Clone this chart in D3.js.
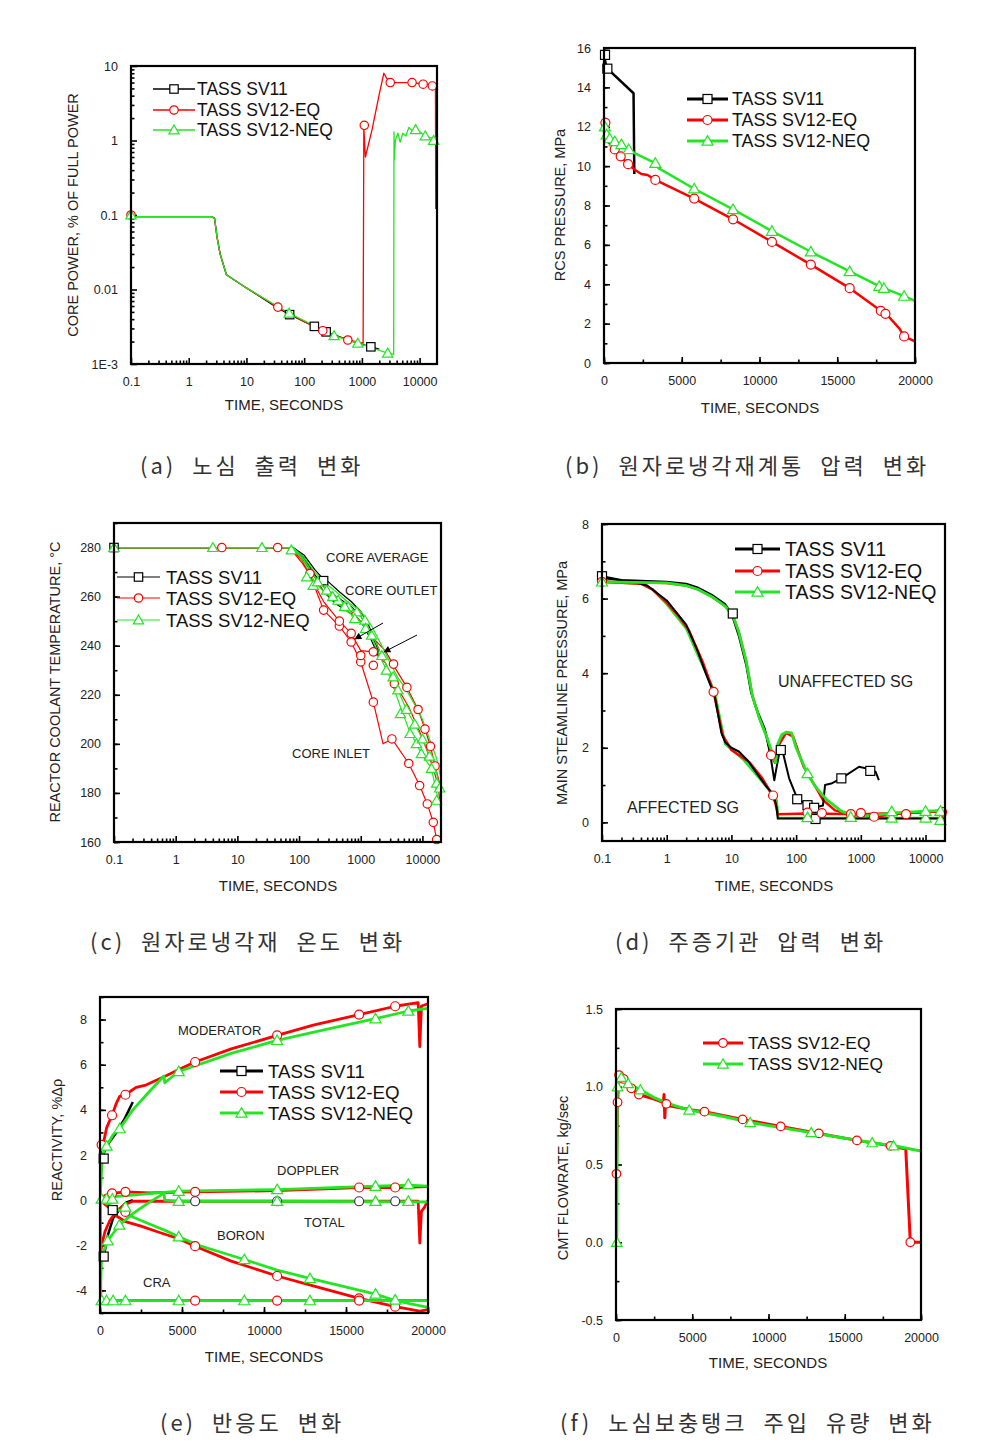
<!DOCTYPE html>
<html><head><meta charset="utf-8">
<script src="https://cdn.jsdelivr.net/npm/d3@7"></script>
<style>
body{margin:0;background:#fff}
svg{display:block}
text{font-family:"Liberation Sans",Arial,sans-serif}
.cap{font-family:"Noto Sans CJK KR","Noto Sans CJK SC",sans-serif}
</style>
</head><body>
<svg id="c" width="982" height="1451"></svg>
<script>
// ================= DATA =================
const LEGEND = ["TASS SV11","TASS SV12-EQ","TASS SV12-NEQ"];
const LOG_X_TICKS = [0.1,1,10,100,1000,10000];
const LOG_X_LABELS = ["0.1","1","10","100","1000","10000"];
const LIN_X_TICKS = [0,5000,10000,15000,20000];
const LIN_X_LABELS = ["0","5000","10000","15000","20000"];

// (a) core power
const aYTicks = [0.001,0.01,0.1,1,10];
const aYLabels = ["1E-3","0.01","0.1","1","10"];
const aSV11 = [[0.1,0.095],[2.5,0.095],[2.8,0.09],[3.1,0.05],[3.5,0.03],[4.5,0.0158],[10,0.0105],[33,0.0058],[56,0.0046],[150,0.0032],[240,0.0027],[700,0.002],[1430,0.0017],[2000,0.00158]];
const aSV11Mk = [[56,0.0046],[150,0.0032],[240,0.0027],[1430,0.0017]];
const aEQ = [[0.1,0.095],[2.5,0.095],[2.8,0.09],[3.1,0.05],[3.5,0.03],[4.5,0.0158],[10,0.0105],[35,0.0058],[100,0.0037],[210,0.0028],[570,0.0021],[1050,0.0019],[1080,1.5],[1150,0.6],[1500,1.4],[2000,4.2],[2400,8.0],[2700,6.8],[3100,6.0],[7400,6.0],[11500,5.7],[16600,5.5],[18800,5.4],[19000,0.12]];
const aEQMk = [[0.1,0.1],[35,0.0058],[210,0.0028],[570,0.0021],[1100,1.6],[3100,6.0],[7400,6.0],[11500,5.7],[16600,5.4]];
const aNEQ = [[0.1,0.095],[2.5,0.095],[2.8,0.09],[3.1,0.05],[3.5,0.03],[4.5,0.0158],[10,0.0105],[55,0.0048],[330,0.0024],[850,0.0019],[2800,0.0014],[3550,0.00135],[3600,1.3],[3650,0.55],[3800,1.0],[4200,1.25],[4600,0.95],[5100,1.25],[5800,1.15],[6500,1.5],[7500,1.35],[8500,1.45],[12500,1.15],[17500,1.05],[19000,1.0]];
const aNEQMk = [[0.1,0.1],[55,0.0048],[330,0.0024],[850,0.0019],[2800,0.0014],[8500,1.4],[12500,1.15],[17500,1.0]];

// (b) RCS pressure
const bYTicks = [0,2,4,6,8,10,12,14,16];
const bSV11 = [[0,15.7],[150,15.0],[1900,13.7],[1950,9.6]];
const bSV11Mk = [[65,15.65],[215,14.95]];
const bEQ = [[0,12.3],[60,11.5],[300,11.2],[690,10.85],[1075,10.5],[1550,10.1],[2000,9.8],[2400,9.6],[2800,9.55],[3300,9.3],[5800,8.35],[8300,7.3],[10800,6.15],[13300,5.0],[15800,3.8],[17800,2.65],[18200,2.45],[19000,1.75],[19300,1.35],[20000,1.1]];
const bEQMk = [[90,12.2],[690,10.85],[1075,10.5],[1550,10.1],[3300,9.3],[5800,8.35],[8300,7.3],[10800,6.15],[13300,5.0],[15800,3.8],[17800,2.65],[18100,2.5],[19300,1.35]];
const bNEQ = [[0,12.5],[80,12.0],[170,11.6],[365,11.4],[690,11.25],[1120,11.1],[1590,10.85],[2000,10.65],[3300,10.15],[3500,9.9],[5800,8.85],[8300,7.8],[10800,6.7],[13300,5.65],[15800,4.65],[17700,3.9],[18000,3.8],[19300,3.4],[20000,3.15]];
const bNEQMk = [[60,12.0],[170,11.6],[365,11.4],[690,11.25],[1120,11.1],[1590,10.85],[3300,10.15],[5800,8.85],[8300,7.8],[10800,6.7],[13300,5.65],[15800,4.65],[17700,3.9],[18000,3.8],[19300,3.4]];

// (c) reactor coolant temperature
const cYTicks = [160,180,200,220,240,260,280];
const cSV11Out = [[0.1,280],[80,280],[120,277],[180,271],[250,267],[300,266],[450,262],[700,258],[1000,254],[1300,249],[1600,244],[2000,238]];
const cSV11Avg = [[0.1,280],[80,280],[120,276],[180,269],[250,264],[400,260],[700,256],[1000,252],[1400,246],[1800,240],[2000,236]];
const cSV11In = [[0.1,280],[80,280],[120,275],[180,268],[250,262],[400,257],[700,253],[1000,250],[1500,242],[2000,235]];
const cSV11Mk = [[0.1,280],[250,266.5]];
const cEQOut = [[0.1,280],[70,280],[110,276],[160,270],[250,262],[400,258],[700,254],[1000,250],[1600,243],[2500,238],[3400,232],[5600,223],[8500,214],[11000,206],[13500,199],[16000,191],[18500,185],[20000,183]];
const cEQAvg = [[0.1,280],[70,280],[110,275],[160,267],[250,258],[450,250],[700,245],[1000,238],[1600,237.5],[2500,233],[3500,225],[6000,215],[9000,205],[12000,197],[15000,190],[18000,183],[20000,172]];
const cEQIn = [[0.1,280],[70,280],[110,274],[150,269],[250,254.5],[450,248],[700,241.5],[1000,233.5],[1100,230],[1600,217],[2300,200],[3200,202],[6000,192],[9000,183],[12000,175.5],[15000,168],[17000,161],[18000,160]];
const cEQMk = [[5.6,280],[45,280],[150,269.4],[250,254.5],[450,248],[700,241.5],[1000,233.4],[1600,217],[3200,202],[6000,192],[9000,183],[12000,175.5],[15000,168],[17000,161],[450,250],[700,245],[1000,236],[1600,237.5],[1600,232],[3400,232.5],[3500,224.5],[5600,223],[8500,214],[11000,206],[13500,199],[16000,191]];
const cNEQOut = [[0.1,280],[80,280],[120,276],[180,270],[250,266],[400,262],[600,258],[1000,254],[1500,248],[2200,240],[3000,233],[4000,227],[5500,222],[7500,216],[10000,210],[13000,202],[17000,194],[20000,186]];
const cNEQAvg = [[0.1,280],[80,280],[120,275],[180,268],[250,264],[400,260],[600,256],[1000,252],[1500,245],[2200,236],[3000,229],[4000,222],[5500,214],[7500,208],[10000,202],[13000,195],[17000,188],[20000,180]];
const cNEQIn = [[0.1,280],[80,280],[120,274],[180,266],[250,262],[400,258],[600,254],[1000,250],[1500,243],[2200,234],[3000,227],[4400,215],[6000,206],[8000,200],[9600,196],[14000,190],[17000,180],[20000,175]];
const cNEQMk = [[0.1,280],[4,280],[25,280],[75,279],[133,268],[170,264.6],[280,262.6],[430,258.5],[630,255.8],[860,253.8],[1170,250.4],[1500,244.3],[2600,230],[3350,227.3],[4400,212.3],[6300,204.2],[8000,200.1],[9600,196],[14000,190],[17000,184],[17000,177],[200,266],[350,260],[550,256],[800,251],[1200,247],[2200,236],[4000,222],[5500,214],[7500,208],[10000,202],[13000,195],[19000,182]];

// (d) main steamline pressure
const dYTicks = [0,2,4,6,8];
const dSV11Unaff = [[0.1,6.6],[0.2,6.5],[1,6.45],[2,6.4],[3,6.3],[5,6.1],[8,5.85],[10,5.6],[13,5.0],[17,4.2],[20,3.5],[25,3.0],[33,2.5],[40,1.8],[46,1.13],[49,1.4],[56,1.94],[62,1.9],[78,1.18],[104,0.64],[150,0.46],[190,0.39],[260,0.45],[280,1.0],[360,1.05],[500,1.18],[940,1.49],[1400,1.42],[1700,1.35],[1900,1.13]];
const dSV11Aff = [[0.1,6.55],[0.3,6.45],[0.5,6.35],[1,5.95],[2,5.3],[3,4.6],[4,4.0],[5.5,3.4],[7,2.4],[8,2.15],[10,2.0],[13,1.9],[18,1.65],[25,1.3],[35,0.95],[45,0.75],[50,0.4],[52,0.1],[20000,0.1]];
const dSV11Mk = [[0.1,6.6],[10.5,5.6],[58,1.94],[104,0.62],[150,0.46],[190,0.39],[200,0.09],[500,1.18],[1400,1.38]];
const dEQAff = [[0.1,6.45],[0.4,6.4],[0.6,6.25],[1,5.89],[1.5,5.55],[2.2,5.15],[3.6,4.3],[5.3,3.5],[7.3,2.34],[10,1.94],[18.8,1.62],[30,1.18],[44,0.7],[48,0.5],[52,0.22],[150,0.24],[1000,0.22],[5000,0.26],[20000,0.3]];
const dEQUnaff = [[0.1,6.45],[1,6.42],[2,6.35],[3,6.25],[5,6.05],[8,5.8],[10.5,5.55],[13,5.1],[17,4.3],[21,3.4],[27,2.8],[35,2.3],[41,1.8],[47,1.6],[55,2.1],[70,2.4],[90,2.3],[130,1.5],[200,0.95],[260,0.6],[400,0.32],[700,0.2],[1500,0.15],[5000,0.25],[20000,0.3]];
const dEQMk = [[0.1,6.45],[5.3,3.5],[41,1.8],[44,0.72],[150,0.26],[250,0.25],[700,0.22],[1000,0.25],[1600,0.15],[5000,0.22],[18000,0.28]];
const dNEQUnaff = [[0.1,6.45],[1,6.42],[2,6.35],[3,6.25],[5,6.05],[8,5.8],[10.5,5.55],[13,5.1],[17,4.3],[21,3.4],[27,2.8],[35,2.3],[42,1.9],[48,1.6],[52,2.1],[60,2.35],[70,2.42],[85,2.4],[100,2.0],[150,1.3],[200,0.95],[300,0.6],[500,0.3],[800,0.18],[1200,0.17],[3000,0.25],[10000,0.3],[20000,0.32]];
const dNEQAff = [[0.1,6.45],[0.4,6.4],[0.6,6.25],[1,5.85],[2,5.2],[3,4.5],[5.5,3.5],[8,2.1],[15,1.7],[35,0.95],[50,0.6],[53,0.12],[20000,0.12]];
const dNEQMk = [[0.1,6.45],[150,1.31],[150,0.13],[700,0.14],[3000,0.12],[3000,0.29],[10000,0.12],[10000,0.3],[17000,0.06],[17000,0.3]];

// (e) reactivity
const eYTicks = [-4,-2,0,2,4,6,8];
const eSV11Mod = [[0,1.2],[100,1.85],[300,2.2],[600,2.6],[1000,3.0],[1500,3.6],[2000,4.35]];
const eSV11Tot = [[0,-2.6],[225,-2.5],[500,-1.5],[800,-0.8],[1200,-0.4],[1600,-0.1],[2000,0.0]];
const eSV11Mk = [[225,1.84],[225,-2.5],[775,-0.44]];
const eEQMod = [[0,0],[50,2.4],[200,2.5],[400,3.2],[735,3.76],[1000,4.3],[1200,4.6],[1550,4.67],[2200,5.0],[2800,5.1],[4000,5.5],[5000,5.85],[5800,6.12],[8000,6.7],[10800,7.3],[13000,7.75],[15800,8.22],[18000,8.59],[19400,8.75],[19500,6.8],[19600,8.6],[20000,8.7]];
const eEQDop = [[0,0],[300,0.2],[735,0.3],[1550,0.37],[3000,0.32],[5800,0.37],[10800,0.42],[15800,0.56],[18000,0.56],[20000,0.6]];
const eEQTot = [[0,-2.6],[100,-2.0],[300,-1.4],[600,-0.9],[1000,-0.5],[1500,-0.2],[2000,-0.05],[5000,-0.05],[19400,-0.05],[19500,-1.9],[19600,-0.5],[19800,-0.3],[20000,0]];
const eEQBor = [[0,0],[500,-0.3],[1000,-0.7],[1550,-0.95],[2500,-1.15],[3500,-1.4],[4750,-1.7],[5800,-2.04],[8000,-2.7],[10800,-3.36],[13000,-3.8],[15800,-4.35],[18000,-4.72],[19500,-4.92],[20000,-4.85]];
const eEQCra = [[0,0],[50,-4.45],[20000,-4.45]];
const eEQMk = [[100,2.45],[735,3.76],[1550,4.67],[5800,6.12],[10800,7.3],[15800,8.22],[18000,8.59],[735,0.3],[1550,0.37],[5800,0.37],[15800,0.56],[18000,0.56],[1550,-0.52],[5800,-2.04],[10800,-3.36],[15800,-4.35],[18000,-4.72],[5800,-4.45],[10800,-4.45],[15800,-4.45]];
const eTotMk = [[5800,-0.05],[10800,-0.05],[15800,-0.05],[18000,-0.05]];
const eNEQMod = [[0,0],[150,2.0],[400,2.4],[800,2.9],[1200,3.17],[2000,4.0],[3000,4.8],[3900,5.5],[3950,5.2],[4800,5.7],[6000,6.0],[8000,6.5],[10800,7.08],[14000,7.6],[16800,8.04],[18800,8.38],[20000,8.5]];
const eNEQDop = [[0,0],[200,0.1],[800,0.15],[1600,0.2],[4800,0.4],[10800,0.47],[16800,0.62],[18800,0.66],[20000,0.62]];
const eNEQTot = [[0,-4.5],[100,-2.5],[470,-1.8],[1180,-1.1],[2000,-0.6],[3000,-0.1],[3900,0.3],[3950,0.0],[4800,-0.05],[10000,-0.05],[20000,-0.08]];
const eNEQBor = [[0,0],[800,-0.3],[1550,-0.6],[2500,-0.9],[3500,-1.2],[4000,-1.35],[4800,-1.62],[6000,-2.0],[8800,-2.63],[10800,-3.1],[12800,-3.47],[16800,-4.16],[18000,-4.45],[20000,-4.75]];
const eNEQCra = [[0,0],[40,-4.45],[20000,-4.45]];
const eNEQMk = [[470,-1.8],[1180,-1.1],[100,0.05],[400,0.05],[750,0.05],[1550,-0.3],[400,2.4],[1200,3.17],[4800,5.7],[10800,7.08],[16800,8.04],[18800,8.38],[4800,0.4],[10800,0.47],[16800,0.62],[18800,0.7],[4800,-0.05],[10800,-0.05],[16800,-0.05],[18800,-0.05],[4800,-1.62],[8800,-2.63],[12800,-3.47],[16800,-4.16],[18000,-4.42],[100,-4.45],[400,-4.45],[800,-4.45],[1550,-4.45],[4800,-4.45],[8800,-4.45],[12800,-4.45]];

// (f) CMT flowrate
const fYTicks = [-0.5,0,0.5,1.0,1.5];
const fYLabels = ["-0.5","0.0","0.5","1.0","1.5"];
const fEQ = [[0,0],[30,0.45],[100,0.9],[200,1.08],[500,1.05],[1000,0.99],[1500,0.95],[2500,0.92],[3100,0.9],[3150,0.95],[3200,0.8],[3250,0.9],[3400,0.88],[5000,0.85],[5800,0.84],[8300,0.79],[10800,0.745],[13300,0.70],[15800,0.655],[18000,0.62],[19000,0.6],[19300,0],[20000,0]];
const fEQMk = [[30,0.44],[100,0.9],[200,1.075],[500,1.05],[1000,0.99],[1500,0.95],[3300,0.89],[5800,0.84],[8300,0.79],[10800,0.745],[13300,0.70],[15800,0.655],[18000,0.62],[19300,0]];
const fNEQ = [[0,0],[50,0],[80,1.0],[350,1.06],[800,1.02],[1600,0.98],[2500,0.93],[3500,0.89],[4800,0.85],[7000,0.81],[8800,0.77],[12800,0.705],[16800,0.64],[18200,0.62],[20000,0.587]];
const fNEQMk = [[50,0],[100,1.0],[350,1.06],[800,1.02],[1600,0.98],[4800,0.85],[8800,0.77],[12800,0.705],[16800,0.64],[18200,0.62]];

const CAPTIONS = ["(a) 노심 출력 변화","(b) 원자로냉각재계통 압력 변화","(c) 원자로냉각재 온도 변화","(d) 주증기관 압력 변화","(e) 반응도 변화","(f) 노심보충탱크 주입 유량 변화"];

// ================= DRAWING =================
const svg = d3.select('#c');
const RED='#ff0000', GRN='#22e622', BLK='#000000', NAVY='#33336a';
const defs = svg.append('defs');
defs.append('marker').attr('id','arr').attr('viewBox','0 0 10 10').attr('refX',9).attr('refY',5)
  .attr('markerWidth',9).attr('markerHeight',7).attr('orient','auto').attr('markerUnits','userSpaceOnUse')
  .append('path').attr('d','M0,0L10,5L0,10Z').attr('fill','#000');

function logMinor(lo,hi){const v=[];for(let e=Math.floor(Math.log10(lo));e<=Math.ceil(Math.log10(hi));e++)for(let k=2;k<=9;k++){const t=k*Math.pow(10,e);if(t>lo*1.0001&&t<hi)v.push(t);}return v;}
function linMinor(lo,hi,step){return d3.range(lo,hi+step*0.001,step);}

function marker(g,cx,cy,sh,col,r){
  if(sh==='circle') g.append('circle').attr('cx',cx).attr('cy',cy).attr('r',r).attr('fill','#fff').attr('stroke',col).attr('stroke-width',1.2);
  else if(sh==='square') g.append('rect').attr('x',cx-r).attr('y',cy-r).attr('width',2*r).attr('height',2*r).attr('fill','#fff').attr('stroke',col).attr('stroke-width',1.2);
  else g.append('path').attr('d',d3.symbol(d3.symbolTriangle,r*r*2.6)()).attr('transform',`translate(${cx},${cy+1})`).attr('fill','#fff').attr('stroke',col).attr('stroke-width',1.2);
}

let pid=0;
function drawPanel(p){
  pid++;
  const g=svg.append('g');
  const x=(p.xlog?d3.scaleLog():d3.scaleLinear()).domain(p.xd).range([p.L,p.R]);
  const y=(p.ylog?d3.scaleLog():d3.scaleLinear()).domain(p.yd).range([p.B,p.T]);
  defs.append('clipPath').attr('id','cl'+pid).append('rect').attr('x',p.L).attr('y',p.T).attr('width',p.R-p.L).attr('height',p.B-p.T);
  const clean=s=>{s.select('.domain').remove();s.selectAll('line').attr('stroke','#000').attr('stroke-width',1.6);};
  g.append('g').attr('transform',`translate(0,${p.B})`).call(d3.axisBottom(x).tickValues(p.xm).tickSizeInner(-3.5).tickSizeOuter(0).tickFormat('')).call(clean);
  g.append('g').attr('transform',`translate(${p.L},0)`).call(d3.axisLeft(y).tickValues(p.ym).tickSizeInner(-3.5).tickSizeOuter(0).tickFormat('')).call(clean);
  const xa=g.append('g').attr('transform',`translate(0,${p.B})`).call(d3.axisBottom(x).tickValues(p.xt).tickFormat((d,i)=>p.xl[i]).tickSizeInner(-6).tickSizeOuter(0).tickPadding(13)).call(clean);
  const ya=g.append('g').attr('transform',`translate(${p.L},0)`).call(d3.axisLeft(y).tickValues(p.yt).tickFormat((d,i)=>p.yl[i]).tickSizeInner(-6).tickSizeOuter(0).tickPadding(13)).call(clean);
  [xa,ya].forEach(a=>a.selectAll('text').attr('font-size',12.5).attr('fill','#222').attr('font-family','"Liberation Sans",Arial,sans-serif'));
  const line=d3.line().x(d=>x(d[0])).y(d=>y(d[1]));
  const lg=g.append('g').attr('clip-path',`url(#cl${pid})`);
  p.series.forEach(s=>lg.append('path').datum(s.d).attr('d',line).attr('fill','none').attr('stroke',s.c).attr('stroke-width',s.w).attr('stroke-linejoin','round'));
  const mg=g.append('g');
  p.marks.forEach(m=>m.pts.forEach(pt=>marker(mg,x(pt[0]),y(pt[1]),m.sh,m.c,p.ms)));
  g.append('rect').attr('x',p.L).attr('y',p.T).attr('width',p.R-p.L).attr('height',p.B-p.T).attr('fill','none').attr('stroke','#000').attr('stroke-width',2.2);
  // titles
  g.append('text').attr('x',p.xt2[0]).attr('y',p.xt2[1]).attr('text-anchor','middle').attr('font-size',15).attr('fill','#222').text('TIME, SECONDS');
  g.append('text').attr('transform',`translate(${p.yt2[0]},${p.yt2[1]}) rotate(-90)`).attr('text-anchor','middle').attr('font-size',14.5).attr('fill','#222').text(p.ytitle);
  // legend
  const L=p.legend;
  L.items.forEach((it,i)=>{
    const yy=L.ys[i];
    g.append('line').attr('x1',L.x1).attr('x2',L.x2).attr('y1',yy).attr('y2',yy).attr('stroke',it.c).attr('stroke-width',L.w);
    marker(g,(L.x1+L.x2)/2,yy,it.sh,it.c,p.ms);
    g.append('text').attr('x',L.tx).attr('y',yy+L.fs*0.36).attr('font-size',L.fs).attr('fill','#111').text(it.t);
  });
  (p.notes||[]).forEach(n=>g.append('text').attr('x',n[1]).attr('y',n[2]).attr('font-size',n[3]).attr('fill','#222').text(n[0]));
}

const LI = [{t:LEGEND[0],c:BLK,sh:'square'},{t:LEGEND[1],c:RED,sh:'circle'},{t:LEGEND[2],c:GRN,sh:'tri'}];

// (a)
drawPanel({L:131,R:437,T:66,B:364,xlog:true,ylog:true,xd:[0.1,20000],yd:[0.001,10],
  xt:LOG_X_TICKS,xl:LOG_X_LABELS,xm:logMinor(0.1,20000),yt:aYTicks,yl:aYLabels,ym:logMinor(0.001,10),
  series:[{d:aSV11,c:BLK,w:1.3},{d:aEQ,c:RED,w:1.3},{d:aNEQ,c:GRN,w:1.3}],
  marks:[{pts:aSV11Mk,c:BLK,sh:'square'},{pts:aEQMk,c:RED,sh:'circle'},{pts:aNEQMk,c:GRN,sh:'tri'}],ms:4.2,
  xt2:[284,410],yt2:[78,215],ytitle:'CORE POWER, % OF FULL POWER',
  legend:{x1:153,x2:195,ys:[89,110,130],tx:197,fs:17.5,w:1.5,items:LI}});

// (b)
drawPanel({L:604,R:915,T:48,B:363,xlog:false,ylog:false,xd:[0,20000],yd:[0,16],
  xt:LIN_X_TICKS,xl:LIN_X_LABELS,xm:linMinor(0,20000,2500),yt:bYTicks,yl:bYTicks.map(String),ym:linMinor(0,16,1),
  series:[{d:bSV11,c:BLK,w:2.5},{d:bEQ,c:RED,w:2.5},{d:bNEQ,c:GRN,w:2.5}],
  marks:[{pts:bSV11Mk,c:BLK,sh:'square'},{pts:bEQMk,c:RED,sh:'circle'},{pts:bNEQMk,c:GRN,sh:'tri'}],ms:4.5,
  xt2:[760,413],yt2:[565,205],ytitle:'RCS PRESSURE, MPa',
  legend:{x1:687,x2:728,ys:[99,120,141],tx:732,fs:17.8,w:3,items:LI}});

// (c)
drawPanel({L:114,R:441,T:523,B:842,xlog:true,ylog:false,xd:[0.1,20000],yd:[160,290],
  xt:LOG_X_TICKS,xl:LOG_X_LABELS,xm:logMinor(0.1,20000),yt:cYTicks,yl:cYTicks.map(String),ym:linMinor(160,290,10),
  series:[{d:cSV11Out,c:BLK,w:1.2},{d:cSV11Avg,c:BLK,w:1.2},{d:cSV11In,c:BLK,w:1.2},
          {d:cEQOut,c:RED,w:1.2},{d:cEQAvg,c:RED,w:1.2},{d:cEQIn,c:RED,w:1.2},
          {d:cNEQOut,c:GRN,w:1.2},{d:cNEQAvg,c:GRN,w:1.2},{d:cNEQIn,c:GRN,w:1.2}],
  marks:[{pts:cSV11Mk,c:BLK,sh:'square'},{pts:cEQMk,c:RED,sh:'circle'},{pts:cNEQMk,c:GRN,sh:'tri'}],ms:4.2,
  xt2:[278,891],yt2:[60,682],ytitle:'REACTOR COOLANT TEMPERATURE, °C',
  legend:{x1:117,x2:160,ys:[577,598,620],tx:166,fs:18.5,w:1.2,items:LI},
  notes:[['CORE AVERAGE',326,562,13],['CORE OUTLET',345,595,13],['CORE  INLET',292,758,13]]});
svg.append('line').attr('x1',383).attr('y1',623).attr('x2',355).attr('y2',639).attr('stroke','#000').attr('stroke-width',1).attr('marker-end','url(#arr)');
svg.append('line').attr('x1',417).attr('y1',635).attr('x2',384).attr('y2',652).attr('stroke','#000').attr('stroke-width',1).attr('marker-end','url(#arr)');

// (d)
drawPanel({L:602,R:945,T:524,B:841,xlog:true,ylog:false,xd:[0.1,20000],yd:[-0.5,8],
  xt:LOG_X_TICKS,xl:LOG_X_LABELS,xm:logMinor(0.1,20000),yt:dYTicks,yl:dYTicks.map(String),ym:linMinor(0,8,1),
  series:[{d:dNEQAff,c:GRN,w:2.5},{d:dEQUnaff,c:RED,w:2.5},{d:dEQAff,c:RED,w:2.5},{d:dSV11Aff,c:BLK,w:2},{d:dSV11Unaff,c:BLK,w:2},{d:dNEQUnaff,c:GRN,w:2.8}],
  marks:[{pts:dSV11Mk,c:BLK,sh:'square'},{pts:dEQMk,c:RED,sh:'circle'},{pts:dNEQMk,c:GRN,sh:'tri'}],ms:4.5,
  xt2:[774,891],yt2:[567,683],ytitle:'MAIN STEAMLINE PRESSURE, MPa',
  legend:{x1:735,x2:780,ys:[549,571,592],tx:785,fs:19.5,w:3,items:LI},
  notes:[['UNAFFECTED SG',778,687,16],['AFFECTED SG',627,813,16]]});

// (e)
drawPanel({L:100,R:428,T:997,B:1313,xlog:false,ylog:false,xd:[0,20000],yd:[-5,9],
  xt:LIN_X_TICKS,xl:LIN_X_LABELS,xm:linMinor(0,20000,2500),yt:eYTicks,yl:eYTicks.map(String),ym:linMinor(-5,9,1),
  series:[{d:eSV11Mod,c:BLK,w:2.5},{d:eSV11Tot,c:BLK,w:2.5},
          {d:eEQMod,c:RED,w:2.8},{d:eEQDop,c:RED,w:2.8},{d:eEQTot,c:RED,w:2.8},{d:eEQBor,c:RED,w:2.8},{d:eEQCra,c:RED,w:2.8},
          {d:eNEQMod,c:GRN,w:2.8},{d:eNEQDop,c:GRN,w:2.8},{d:eNEQTot,c:GRN,w:2.8},{d:eNEQBor,c:GRN,w:2.8},{d:eNEQCra,c:GRN,w:2.8}],
  marks:[{pts:eSV11Mk,c:BLK,sh:'square'},{pts:eEQMk,c:RED,sh:'circle'},{pts:eTotMk,c:NAVY,sh:'circle'},{pts:eNEQMk,c:GRN,sh:'tri'}],ms:4.5,
  xt2:[264,1362],yt2:[62,1140],ytitle:'REACTIVITY, %Δρ',
  legend:{x1:220,x2:263,ys:[1071,1092,1113],tx:268,fs:18.7,w:3,items:LI},
  notes:[['MODERATOR',178,1035,13],['DOPPLER',277,1175,13],['TOTAL',304,1227,13],['BORON',217,1240,13],['CRA',143,1287,13]]});

// (f)
drawPanel({L:616,R:921,T:1009,B:1320,xlog:false,ylog:false,xd:[0,20000],yd:[-0.5,1.5],
  xt:LIN_X_TICKS,xl:LIN_X_LABELS,xm:linMinor(0,20000,2500),yt:fYTicks,yl:fYLabels,ym:linMinor(-0.5,1.5,0.25),
  series:[{d:fEQ,c:RED,w:3},{d:fNEQ,c:GRN,w:3}],
  marks:[{pts:fEQMk,c:RED,sh:'circle'},{pts:fNEQMk,c:GRN,sh:'tri'}],ms:4.3,
  xt2:[768,1368],yt2:[568,1178],ytitle:'CMT FLOWRATE, kg/sec',
  legend:{x1:703,x2:743,ys:[1043,1064],tx:748,fs:17.4,w:3,items:LI.slice(1)}});

// captions
const capPos=[[140,474],[565,474],[90,950],[615,950],[160,1431],[560,1431]];
CAPTIONS.forEach((c,i)=>svg.append('text').attr('class','cap').attr('x',capPos[i][0]).attr('y',capPos[i][1])
  .attr('font-size',22).attr('letter-spacing',3).attr('word-spacing',8).attr('fill','#333').text(c));
</script>
</body></html>
